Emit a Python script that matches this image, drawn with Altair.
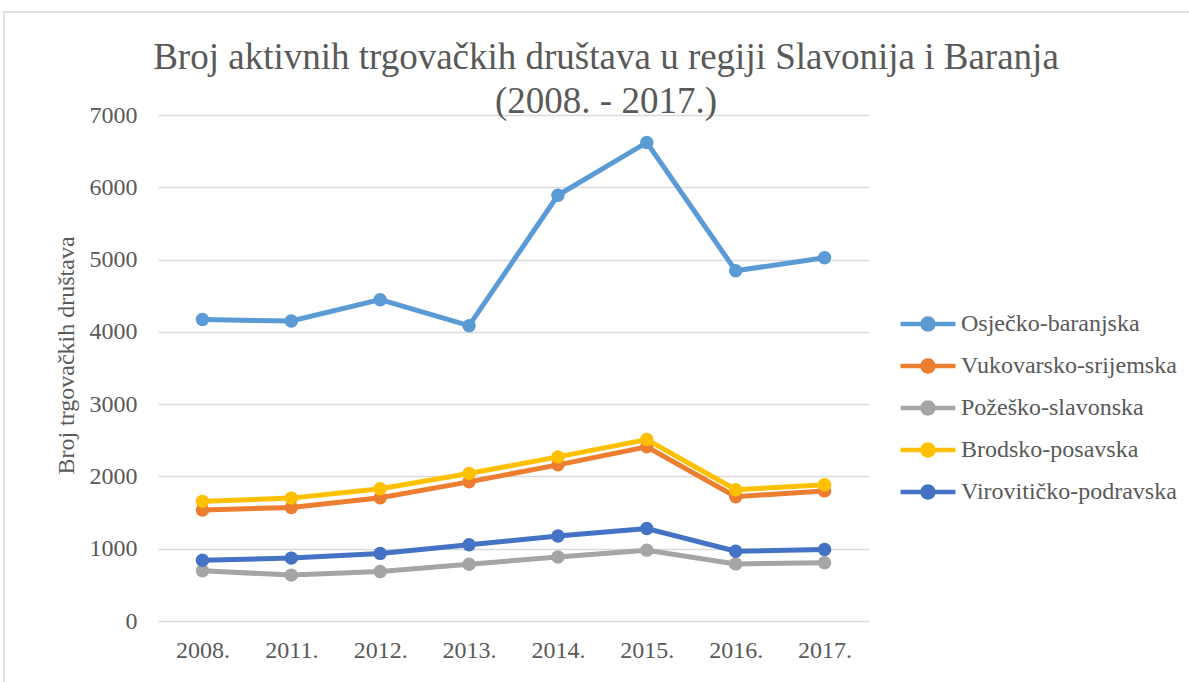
import altair as alt
import pandas as pd

years = ["2008.", "2011.", "2012.", "2013.", "2014.", "2015.", "2016.", "2017."]
series_names = ["Osječko-baranjska", "Vukovarsko-srijemska", "Požeško-slavonska",
                "Brodsko-posavska", "Virovitičko-podravska"]
osijek = [4170, 4150, 4445, 4085, 5890, 6620, 4845, 5025]
vukovar = [1535, 1570, 1705, 1925, 2160, 2410, 1720, 1800]
pozega = [695, 635, 685, 785, 885, 980, 790, 805]
brod = [1655, 1700, 1830, 2040, 2270, 2510, 1815, 1885]
virovitica = [840, 870, 935, 1055, 1175, 1280, 965, 990]
colors = ["#5B9BD5", "#ED7D31", "#A5A5A5", "#FFC000", "#4472C4"]
y_ticks = [0, 1000, 2000, 3000, 4000, 5000, 6000, 7000]

values = [osijek, vukovar, pozega, brod, virovitica]
rows = []
for name, vals in zip(series_names, values):
    for yr, v in zip(years, vals):
        rows.append({"Godina": yr, "Županija": name, "Broj": v})
df = pd.DataFrame(rows)

FONT = "Liberation Serif"
GREY = "#595959"
W, H = 711, 506
PL, PT = 158, 115

symbol_path = ("M-2.5,-0.2L2.5,-0.2L2.5,0.2L-2.5,0.2Z "
               "M-0.7,0A0.7,0.7 0 1,1 0.7,0A0.7,0.7 0 1,1 -0.7,0Z")

x_enc = alt.X("Godina:N", sort=years,
              scale=alt.Scale(type="point", padding=0.5),
              axis=alt.Axis(title=None, labelAngle=0, labelFont=FONT, labelFontSize=24,
                            labelColor=GREY, ticks=False, domain=False, grid=False,
                            labelPadding=17))
y_enc = alt.Y("Broj:Q", scale=alt.Scale(domain=[0, 7000], nice=False),
              axis=alt.Axis(title="Broj trgovačkih društava", values=y_ticks, format="d",
                            labelFont=FONT, labelFontSize=24, labelColor=GREY,
                            titleFont=FONT, titleFontSize=24, titleColor=GREY,
                            titleFontWeight="normal", titleX=66 - PL, titleY=240,
                            titleAngle=270, titleAlign="center", titleBaseline="middle",
                            ticks=False, domain=False, labelPadding=21,
                            gridColor="#d9d9d9", gridWidth=1.5))
color_enc = alt.Color("Županija:N", sort=series_names,
                      scale=alt.Scale(domain=series_names, range=colors),
                      legend=alt.Legend(title=None, orient="none", legendX=916 - PL, legendY=197,
                                        symbolType=symbol_path, symbolSize=484,
                                        symbolStrokeWidth=0, symbolOpacity=1,
                                        labelFont=FONT, labelFontSize=24, labelColor=GREY,
                                        labelOffset=21, rowPadding=18, padding=0,
                                        labelLimit=300))

border = alt.Chart(pd.DataFrame({"a": [0]})).mark_rect(
    fill=None, stroke="#d9d9d9", strokeWidth=1.5).encode(
    x=alt.value(4 - PL), x2=alt.value(1189 - PL + 5),
    y=alt.value(12 - PT), y2=alt.value(682 - PT + 5))

layers = [border]
for name in series_names:
    sub = df[df["Županija"] == name]
    base = alt.Chart(sub).encode(x=x_enc, y=y_enc, color=color_enc)
    layers.append(base.mark_line(strokeWidth=5))
    layers.append(base.mark_point(filled=True, size=180, opacity=1))

chart = alt.layer(*layers).properties(
    width=W, height=H,
    background="white",
    title=alt.TitleParams(
        text=["Broj aktivnih trgovačkih društava u regiji Slavonija i Baranja",
              "(2008. - 2017.)"],
        font=FONT, fontSize=37, fontWeight="normal", color=GREY,
        anchor="middle", dx=606 - (PL + W / 2), offset=-110, lineHeight=44),
    autosize=alt.AutoSizeParams(type="none"),
    padding={"left": PL, "top": PT, "right": 1189 - PL - W, "bottom": 682 - PT - H},
).configure_view(strokeWidth=0, stroke="transparent")

chart.save("out.html", embed_options={"renderer": "svg", "actions": False})
